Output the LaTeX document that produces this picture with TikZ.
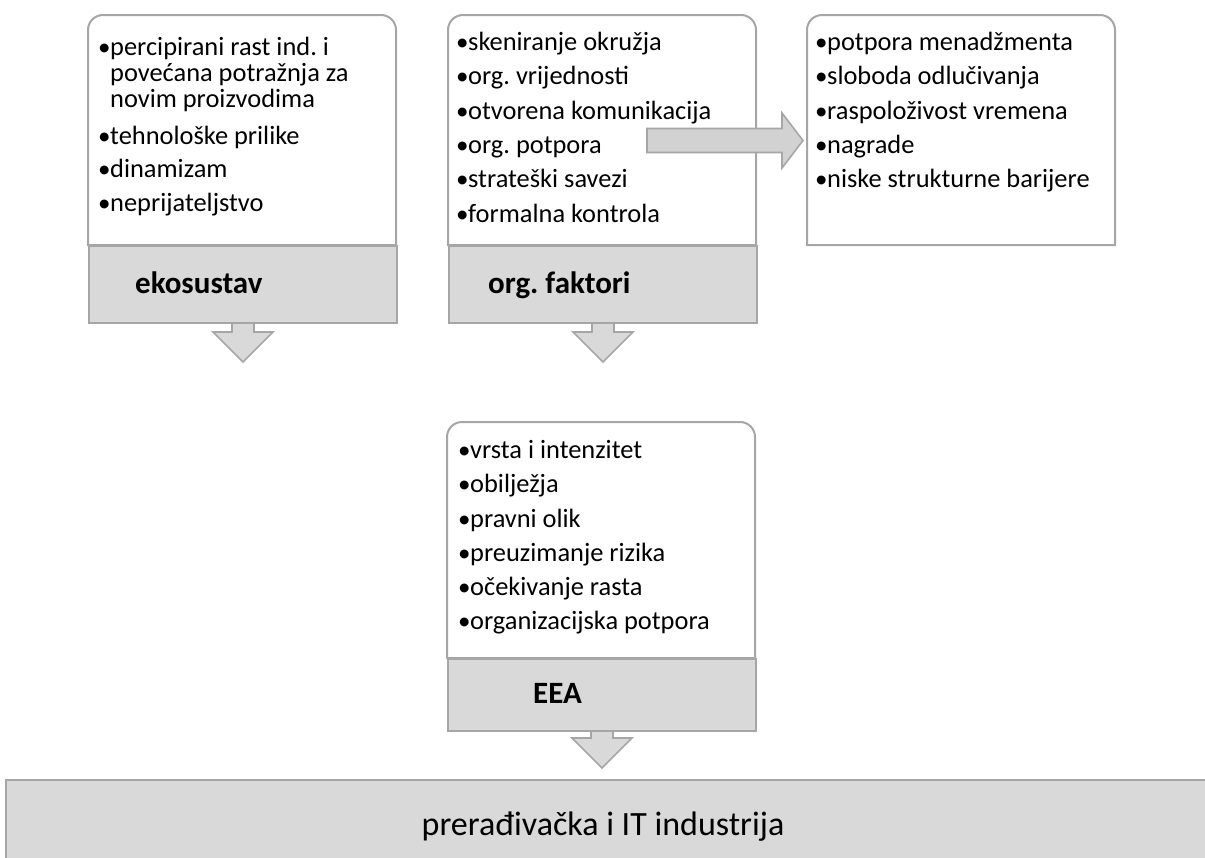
\documentclass[tikz,border=0pt]{standalone}
\usepackage{fontspec}
\setmainfont{Carlito}
\frenchspacing
\definecolor{bordergray}{HTML}{A6A6A6}
\definecolor{boxgray}{HTML}{D9D9D9}
\definecolor{arrowgray}{HTML}{D2D2D2}
\tikzset{
  frame/.style={draw=bordergray, line width=2pt, fill=white},
  labelbox/.style={draw=bordergray, line width=2pt, fill=boxgray, inner sep=0pt, anchor=north west},
  blockarrow/.style={draw=bordergray, line width=1.6pt, fill=boxgray, line join=miter},
  itm/.style={anchor=base west, inner sep=0pt, font=\fontsize{26.4}{26.4}\selectfont},
  lbl/.style={anchor=base west, inner sep=0pt, font=\fontsize{31}{31}\selectfont\bfseries},
}
\newcommand\bul{\makebox[11pt][l]{\hspace*{-1pt}\fontsize{25}{25}\selectfont •}}
\newcommand\nobul{\hspace*{11pt}}
\newcommand\dnarrow[4]{% cx, ytop, yhead, ytip
  \draw[blockarrow] ({#1-11},#2) -- ({#1-11},#3) -- ({#1-30},#3) -- (#1,#4)
    -- ({#1+30},#3) -- ({#1+11},#3) -- ({#1+11},#2) -- cycle;}
\newcommand\topframe[4]{% x1,y1,x2,y2 : rounded top, square bottom
  \draw[frame] (#1,#4) [rounded corners=15pt] -- (#1,#2) -- (#3,#2) [sharp corners] -- (#3,#4) -- cycle;}
\begin{document}
\begin{tikzpicture}[x=1pt,y=-1pt]
\useasboundingbox (0,0) rectangle (1205,857);

% ---- box 1: ekosustav
\dnarrow{243}{322}{332}{362}
\topframe{88}{15}{396}{245}
\node[labelbox, minimum width=308pt, minimum height=77pt] (ekoBox) at (88,245) {};
\node[lbl] (eko) at (135,293) {ekosustav};
\node[itm] (e1) at (99,55) {\bul percipirani rast ind. i};
\node[itm] (e1b) at (99,81) {\nobul povećana potražnja za};
\node[itm] (e1c) at (99,107) {\nobul novim proizvodima};
\node[itm] (e2) at (99,144) {\bul tehnološke prilike};
\node[itm] (e3) at (99,177) {\bul dinamizam};
\node[itm] (e4) at (99,211) {\bul neprijateljstvo};

% ---- box 2: org. faktori
\dnarrow{603}{322}{332}{362}
\topframe{448}{15}{756}{245}
\node[labelbox, minimum width=308pt, minimum height=77pt] (orgBox) at (448,245) {};
\node[lbl] (org) at (488,293) {org. faktori};
\node[itm] (o1) at (457,50) {\bul skeniranje okružja};
\node[itm] (o2) at (457,84) {\bul org. vrijednosti};
\node[itm] (o3) at (457,119) {\bul otvorena komunikacija};
\node[itm] (o4) at (457,153) {\bul org. potpora};
\node[itm] (o5) at (457,187) {\bul strateški savezi};
\node[itm] (o6) at (457,222) {\bul formalna kontrola};

% ---- box 3
\topframe{807}{15}{1115}{245}
\node[itm] (p1) at (816,50) {\bul potpora menadžmenta};
\node[itm] (p2) at (816,84) {\bul sloboda odlučivanja};
\node[itm] (p3) at (816,119) {\bul raspoloživost vremena};
\node[itm] (p4) at (816,153) {\bul nagrade};
\node[itm] (p5) at (816,187) {\bul niske strukturne barijere};

% right arrow
\draw[blockarrow, fill=arrowgray] (647,128.5) -- (782,128.5) -- (782,113) -- (803,140.5)
  -- (782,168) -- (782,152.5) -- (647,152.5) -- cycle;

% ---- box 4: EEA
\dnarrow{602}{730}{738}{768}
\topframe{447}{422}{755}{658}
\node[labelbox, minimum width=308pt, minimum height=72pt] (eeaBox) at (447,658) {};
\node[lbl] (eea) at (533,703) {EEA};
\node[itm] (a1) at (459,458) {\bul vrsta i intenzitet};
\node[itm] (a2) at (459,492) {\bul obilježja};
\node[itm] (a3) at (459,527) {\bul pravni olik};
\node[itm] (a4) at (459,561) {\bul preuzimanje rizika};
\node[itm] (a5) at (459,595) {\bul očekivanje rasta};
\node[itm] (a6) at (459,629) {\bul organizacijska potpora};

% ---- bottom box
\node[labelbox, minimum width=1220pt, minimum height=100pt] (ind) at (5,779) {};
\node[anchor=base, inner sep=0pt, font=\fontsize{34}{34}\selectfont] (indText) at (603,835) {prerađivačka i IT industrija};
\end{tikzpicture}
\end{document}
